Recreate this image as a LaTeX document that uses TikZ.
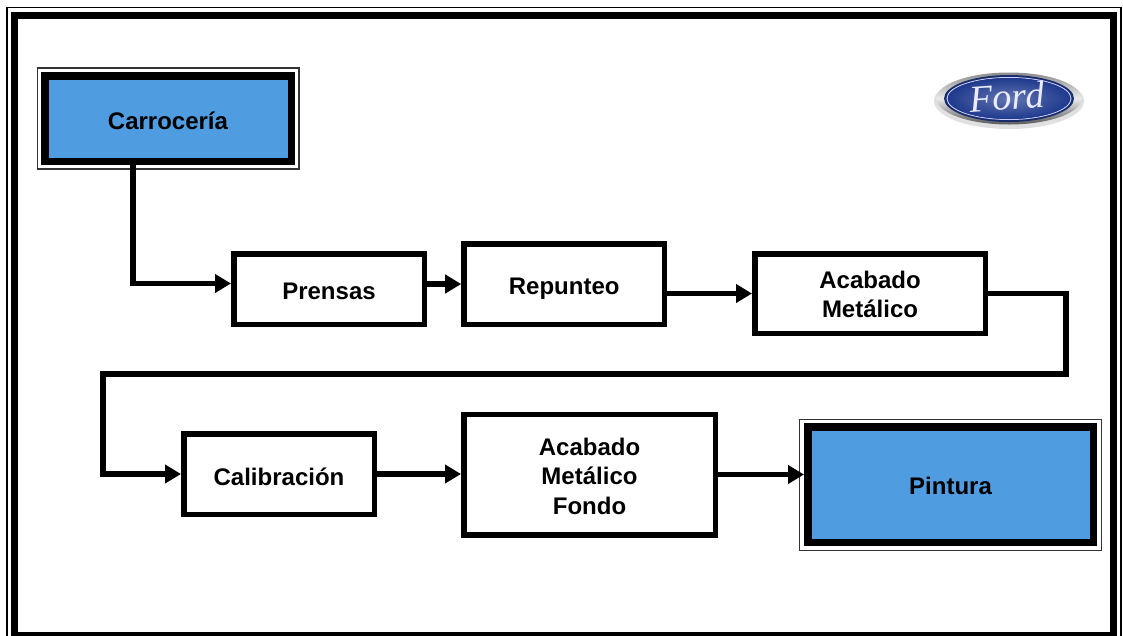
\documentclass[tikz,border=0pt]{standalone}
\usepackage{fontspec}
\usetikzlibrary{arrows.meta,shapes.geometric}
\setmainfont{Liberation Sans}
\newfontfamily\logofont{Liberation Serif}
\definecolor{boxblue}{HTML}{4F9DE0}
\definecolor{ovalblue}{HTML}{1F3A8E}
\newcommand{\lift}[2]{\raisebox{#1pt}[0pt][0pt]{#2}}
\newcommand{\liftlines}[2]{\raisebox{#1pt}[0pt][0pt]{\begin{tabular}[t]{@{}c@{}}#2\end{tabular}}}
\tikzset{
  x=1pt,y=-1pt,
  proc/.style={draw=black,fill=white,line width=5.5pt,rectangle,inner sep=0pt,
    font=\bfseries\fontsize{24}{29.5}\selectfont,text=black},
  term/.style={proc,fill=boxblue,line width=7.5pt},
  thinframe/.style={draw=black!80,line width=1.6pt},
  link/.style={draw=black,line width=5.5pt,-{Triangle[length=16pt,width=18pt]}}
}
\begin{document}
\begin{tikzpicture}
\clip (0,0) rectangle (1123,635);
\fill[white] (0,0) rectangle (1123,635);
% page frame
\draw[draw=black,line width=1.8pt] (7,7.5) rectangle (1121,645);
\draw[draw=black,line width=7.5pt] (14.5,15.5) rectangle (1113.5,636);
% nodes
\node[term,minimum width=246.5pt,minimum height=85.5pt] (carr) at (168,118.5) {\lift{-10.5}{Carrocería}};
\draw[thinframe] (37.5,68) rectangle (298.8,169);
\node[proc,minimum width=190.5pt,minimum height=70.5pt] (pre) at (329,289) {\lift{-10}{Prensas}};
\node[proc,minimum width=200.5pt,minimum height=80.5pt] (rep) at (564.2,284) {\lift{-10}{Repunteo}};
\node[proc,minimum width=230.5pt,minimum height=79.5pt] (aca) at (870,293.5) {\liftlines{5.5}{Acabado\\Metálico}};
\node[proc,minimum width=190.5pt,minimum height=80.5pt] (cal) at (279,474) {\lift{-11}{Calibración}};
\node[proc,minimum width=251.5pt,minimum height=120.5pt] (amf) at (589.5,474.5) {\liftlines{19.5}{Acabado\\Metálico\\Fondo}};
\node[term,minimum width=285.5pt,minimum height=115.5pt] (pin) at (950.5,484.5) {\lift{-9.5}{Pintura}};
\draw[thinframe] (799.5,419.5) rectangle (1101.5,550.5);
% connectors
\coordinate (c1) at (133,283.5);
\coordinate (e1) at (1066,374);
\coordinate (e2) at (103,374);
\draw[link] (c1 |- carr.south) -- (c1) -- ([yshift=5.5pt]pre.west);
\draw[link] (pre.east |- rep.west) -- (rep.west);
\draw[link] (rep.east |- aca.west) -- (aca.west);
\draw[link] (aca.east) -| (e1) -- (e2) |- (cal.west);
\draw[link] (cal.east) -- (cal.east -| amf.west);
\draw[link] (amf.east) -- (amf.east -| pin.west);
% Ford logo
\fill[black!12] (1009,101) ellipse [x radius=75,y radius=28];
\shade[top color=black!45,bottom color=black!65,middle color=black!8] (1009,98.5) ellipse [x radius=72.5,y radius=26];
\fill[ovalblue!75!black] (1009,98.5) ellipse [x radius=65,y radius=23.5];
\draw[white!80!blue,line width=1pt] (1009,98.5) ellipse [x radius=62,y radius=21];
\shade[inner color=ovalblue!70!white,outer color=ovalblue] (1009,98.5) ellipse [x radius=61,y radius=20.5];
\node[inner sep=0pt,text=white!92!blue,rotate=4,font=\logofont\itshape\fontsize{38}{38}\selectfont] (logo) at (1007,97) {Ford};
\end{tikzpicture}
\end{document}
